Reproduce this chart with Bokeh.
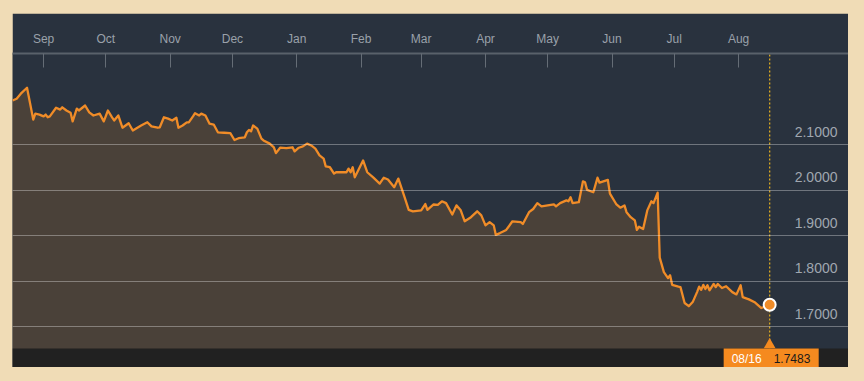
import pandas as pd
from bokeh.plotting import figure
from bokeh.models import FixedTicker, Label, BoxAnnotation, Spacer, DatetimeTickFormatter
from bokeh.layouts import column, row
from bokeh.core.properties import value
from bokeh.embed import file_html
from bokeh.resources import INLINE

# ---- data ----
dates = [
    "2015-08-17", "2015-08-19", "2015-08-21", "2015-08-24", "2015-08-27", "2015-08-28", "2015-08-30",
    "2015-09-01", "2015-09-02", "2015-09-03", "2015-09-04", "2015-09-07", "2015-09-09", "2015-09-10",
    "2015-09-12", "2015-09-14", "2015-09-15", "2015-09-17", "2015-09-18", "2015-09-21", "2015-09-23",
    "2015-09-25", "2015-09-28", "2015-09-30", "2015-10-02", "2015-10-04", "2015-10-05", "2015-10-07",
    "2015-10-09", "2015-10-12", "2015-10-14", "2015-10-18", "2015-10-21", "2015-10-23", "2015-10-26",
    "2015-10-27", "2015-10-29", "2015-10-31", "2015-11-02", "2015-11-04", "2015-11-05", "2015-11-07",
    "2015-11-09", "2015-11-10", "2015-11-12", "2015-11-13", "2015-11-15", "2015-11-16", "2015-11-18",
    "2015-11-20", "2015-11-22", "2015-11-24", "2015-11-27", "2015-11-30", "2015-12-02", "2015-12-04",
    "2015-12-07", "2015-12-08", "2015-12-09", "2015-12-10", "2015-12-11", "2015-12-13", "2015-12-15",
    "2015-12-16", "2015-12-19", "2015-12-21", "2015-12-22", "2015-12-24", "2015-12-27", "2015-12-30",
    "2015-12-31", "2016-01-02", "2016-01-04", "2016-01-06", "2016-01-08", "2016-01-10", "2016-01-12",
    "2016-01-14", "2016-01-15", "2016-01-17", "2016-01-19", "2016-01-20", "2016-01-25", "2016-01-26",
    "2016-01-27", "2016-01-28", "2016-01-29", "2016-02-02", "2016-02-04", "2016-02-07", "2016-02-10",
    "2016-02-12", "2016-02-14", "2016-02-17", "2016-02-19", "2016-02-22", "2016-02-24", "2016-02-26",
    "2016-03-01", "2016-03-03", "2016-03-04", "2016-03-07", "2016-03-09", "2016-03-11", "2016-03-13",
    "2016-03-16", "2016-03-18", "2016-03-20", "2016-03-22", "2016-03-25", "2016-03-28", "2016-03-30",
    "2016-04-01", "2016-04-03", "2016-04-05", "2016-04-06", "2016-04-08", "2016-04-11", "2016-04-14",
    "2016-04-18", "2016-04-19", "2016-04-22", "2016-04-24", "2016-04-26", "2016-04-28", "2016-05-01",
    "2016-05-04", "2016-05-05", "2016-05-07", "2016-05-10", "2016-05-11", "2016-05-12", "2016-05-13",
    "2016-05-16", "2016-05-18", "2016-05-19", "2016-05-20", "2016-05-23", "2016-05-25", "2016-05-26",
    "2016-05-30", "2016-05-31", "2016-06-03", "2016-06-05", "2016-06-07", "2016-06-08", "2016-06-10",
    "2016-06-12", "2016-06-13", "2016-06-14", "2016-06-16", "2016-06-18", "2016-06-20", "2016-06-21",
    "2016-06-23", "2016-06-24", "2016-06-26", "2016-06-28", "2016-06-29", "2016-06-30", "2016-07-03",
    "2016-07-04", "2016-07-06", "2016-07-08", "2016-07-10", "2016-07-12", "2016-07-13", "2016-07-14",
    "2016-07-15", "2016-07-16", "2016-07-17", "2016-07-18", "2016-07-20", "2016-07-21", "2016-07-22",
    "2016-07-24", "2016-07-26", "2016-07-29", "2016-07-31", "2016-08-02", "2016-08-03", "2016-08-06",
    "2016-08-09", "2016-08-12", "2016-08-16",
]
values = [
    2.198, 2.202, 2.213, 2.226, 2.156, 2.169, 2.167,
    2.163, 2.167, 2.161, 2.163, 2.182, 2.178, 2.183,
    2.176, 2.171, 2.152, 2.180, 2.176, 2.187, 2.172,
    2.165, 2.169, 2.152, 2.176, 2.161, 2.154, 2.165,
    2.138, 2.148, 2.132, 2.143, 2.150, 2.141, 2.138,
    2.139, 2.161, 2.158, 2.154, 2.160, 2.138, 2.143,
    2.150, 2.150, 2.163, 2.170, 2.165, 2.169, 2.165,
    2.147, 2.145, 2.128, 2.127, 2.126, 2.111, 2.115,
    2.117, 2.128, 2.133, 2.130, 2.143, 2.136, 2.114,
    2.110, 2.103, 2.095, 2.082, 2.094, 2.093, 2.095,
    2.086, 2.094, 2.097, 2.103, 2.099, 2.092, 2.077,
    2.070, 2.053, 2.051, 2.037, 2.040, 2.040, 2.048,
    2.040, 2.051, 2.029, 2.066, 2.040, 2.028, 2.015,
    2.028, 2.024, 2.007, 2.026, 1.985, 1.957, 1.954,
    1.956, 1.970, 1.957, 1.969, 1.968, 1.976, 1.972,
    1.947, 1.967, 1.957, 1.932, 1.941, 1.954, 1.945,
    1.923, 1.930, 1.923, 1.902, 1.906, 1.913, 1.932,
    1.930, 1.926, 1.952, 1.959, 1.972, 1.965, 1.967,
    1.969, 1.965, 1.972, 1.978, 1.976, 1.985, 1.972,
    1.974, 2.020, 2.018, 2.001, 1.996, 2.028, 2.017,
    2.023, 1.993, 1.970, 1.962, 1.967, 1.952, 1.941,
    1.934, 1.913, 1.920, 1.915, 1.956, 1.976, 1.972,
    1.995, 1.852, 1.820, 1.807, 1.813, 1.792, 1.788,
    1.787, 1.752, 1.745, 1.755, 1.776, 1.788, 1.781,
    1.792, 1.783, 1.791, 1.780, 1.794, 1.787, 1.794,
    1.785, 1.789, 1.776, 1.771, 1.791, 1.765, 1.760,
    1.753, 1.741, 1.7483,
]
y_ticks = [1.7, 1.8, 1.9, 2.0, 2.1]
y_tick_labels = ["1.7000", "1.8000", "1.9000", "2.0000", "2.1000"]
month_ticks = ["2015-09-01", "2015-10-01", "2015-11-01", "2015-12-01", "2016-01-01", "2016-02-01",
               "2016-03-01", "2016-04-01", "2016-05-01", "2016-06-01", "2016-07-01", "2016-08-01"]
last_date_text = "08/16"
last_value_text = "1.7483"

x_start, x_end = "2015-08-17", "2016-09-23"
y_bottom, y_top = 1.610, 2.3015
strip_top = 1.6518
PX_PER_UNIT = 454.0

# ---- colours ----
CREAM = "#f0dcb6"
NAVY = "#29323e"
BROWN = "#4a4139"
STRIP = "#212121"
ORANGE = "#f08c28"
BOX_ORANGE = "#f58a1f"
FONT = "Liberation Sans"

dts = pd.to_datetime(dates)
last_dt = dts[-1]
last_ms = last_dt.value / 1e6
last_val = values[-1]

p = figure(width=836, height=354, x_axis_type="datetime", x_axis_location="above",
           y_axis_location=None,
           x_range=(pd.Timestamp(x_start), pd.Timestamp(x_end)), y_range=(y_bottom, y_top),
           output_backend="svg", toolbar_location=None,
           min_border_left=0, min_border_right=0, min_border_bottom=0, min_border_top=40,
           background_fill_color=NAVY, border_fill_color=NAVY, outline_line_color=None)

# x axis (months)
ax = p.xaxis[0]
ax.ticker = FixedTicker(ticks=[pd.Timestamp(m).value / 1e6 for m in month_ticks])
ax.formatter = DatetimeTickFormatter(years="%b", months="%b", days="%b", hours="%b",
                                     minutes="%b", seconds="%b", milliseconds="%b",
                                     microseconds="%b", minsec="%b", hourmin="%b")
ax.axis_line_color = "#59616a"
ax.axis_line_width = 2
ax.major_tick_in = 14
ax.major_tick_out = 0
ax.major_tick_line_color = "#656d76"
ax.major_tick_line_width = 1
ax.minor_tick_line_color = None
ax.major_label_standoff = 8
ax.major_label_text_font = FONT
ax.major_label_text_font_size = "12px"
ax.major_label_text_color = "#9aa1aa"

p.xgrid.visible = False
p.ygrid.ticker = FixedTicker(ticks=y_ticks)
p.ygrid.grid_line_color = "white"
p.ygrid.grid_line_alpha = 0.33
p.ygrid.grid_line_width = 1
p.ygrid.level = "glyph"

# area + line
p.varea(x=dts, y1=y_bottom, y2=values, fill_color=BROWN, level="underlay")
p.line(dts, values, line_color=ORANGE, line_width=2.3, line_join="round")

# y tick labels inside the plot, right side
p.text(x=[pd.Timestamp(x_end)] * len(y_ticks), y=y_ticks, text=y_tick_labels,
       x_offset=-11, y_offset=-13, text_align="right", text_baseline="alphabetic",
       text_font=value(FONT), text_font_size="14px", text_color="#a0a7b0")

# vertical dotted marker line
p.segment(x0=[last_dt], y0=[strip_top], x1=[last_dt], y1=[y_top],
          line_color="#d8a821", line_width=1.3, line_dash="2 2")

# pointer triangle
p.scatter([last_dt], [strip_top + 3.5 / PX_PER_UNIT], marker="triangle", size=12,
          fill_color=BOX_ORANGE, line_color=None)

# bottom dark strip
p.add_layout(BoxAnnotation(top=strip_top, fill_color=STRIP, fill_alpha=1.0, line_color=None))

# last point marker
p.scatter([last_dt], [last_val], size=12, fill_color=ORANGE, line_color="white", line_width=2)

# last value box
p.add_layout(Label(x=last_ms, y=y_bottom, x_offset=-46, y_offset=9, text=last_date_text,
                   text_color="white", text_font=FONT, text_font_size="12px",
                   text_align="left", text_baseline="middle",
                   background_fill_color=BOX_ORANGE,
                   padding=dict(left=8, right=57, top=3, bottom=3)))
p.add_layout(Label(x=last_ms, y=y_bottom, x_offset=4, y_offset=9, text=last_value_text,
                   text_color="#1a1a1a", text_font=FONT, text_font_size="12px",
                   text_align="left", text_baseline="middle"))

layout = column(Spacer(width=836, height=13), row(Spacer(width=12, height=354), p))

html = file_html(layout, INLINE)
html = html.replace("</head>",
                    "<style>html, body { background-color: %s; }</style></head>" % CREAM, 1)
open("out.html", "w").write(html)
